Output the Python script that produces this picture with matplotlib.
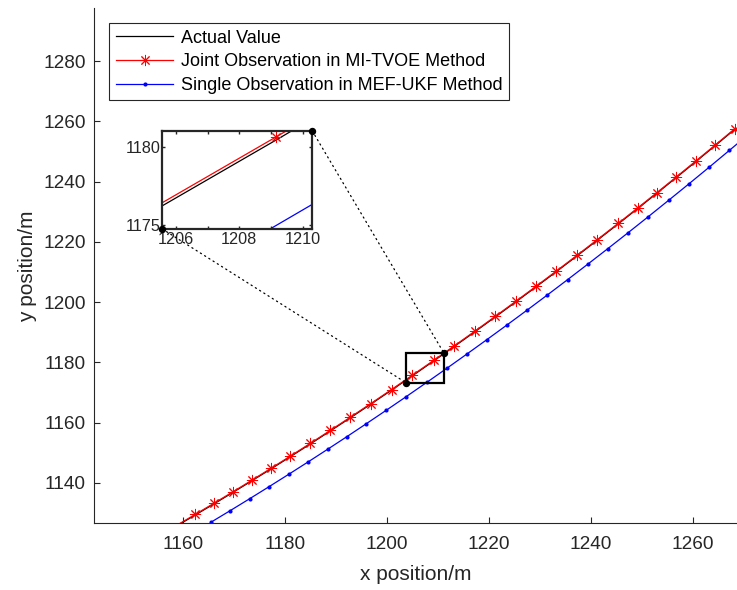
import matplotlib
matplotlib.use("Agg")
import matplotlib.pyplot as plt
from matplotlib.patches import Rectangle, ConnectionPatch

plt.rcParams['font.family'] = ['Liberation Sans', 'DejaVu Sans']

# ---------------- data ----------------
# Joint Observation in MI-TVOE Method (red, asterisk markers)
joint_x = [1159.0, 1162.5, 1166.1, 1169.8, 1173.5, 1177.3, 1181.1, 1185.0, 1188.9,
           1192.8, 1196.8, 1200.9, 1205.0, 1209.15, 1213.2, 1217.2, 1221.2, 1225.2,
           1229.2, 1233.2, 1237.2, 1241.2, 1245.3, 1249.1, 1252.9, 1256.7, 1260.5,
           1264.3, 1268.1]
joint_y = [1126.11, 1129.60, 1133.23, 1137.02, 1140.86, 1144.86, 1148.92, 1153.14, 1157.43,
           1161.77, 1166.29, 1170.99, 1175.76, 1180.65, 1185.49, 1190.33, 1195.24, 1200.21,
           1205.24, 1210.33, 1215.49, 1220.72, 1226.14, 1231.22, 1236.36, 1241.55, 1246.81,
           1252.12, 1257.49]

# Actual Value (black)
actual_x = joint_x
actual_y = [1125.91, 1129.40, 1133.03, 1136.82, 1140.66, 1144.66, 1148.72, 1152.94, 1157.23,
            1161.57, 1166.09, 1170.79, 1175.56, 1180.45, 1185.29, 1190.13, 1195.04, 1200.01,
            1205.04, 1210.13, 1215.29, 1220.52, 1225.94, 1231.02, 1236.16, 1241.35, 1246.61,
            1251.92, 1257.29]

# Single Observation in MEF-UKF Method (blue, dot markers)
single_x = [1165.5, 1169.3, 1173.1, 1176.9, 1180.8, 1184.6, 1188.4, 1192.2, 1196.0,
            1199.9, 1203.7, 1207.8, 1211.7, 1215.6, 1219.6, 1223.5, 1227.5, 1231.4,
            1235.4, 1239.4, 1243.3, 1247.3, 1251.2, 1255.2, 1259.2, 1263.1, 1267.1, 1271.0]
single_y = [1126.92, 1130.80, 1134.74, 1138.74, 1142.90, 1147.01, 1151.18, 1155.40, 1159.69,
            1164.14, 1168.54, 1173.35, 1177.99, 1182.69, 1187.57, 1192.39, 1197.39, 1202.33,
            1207.46, 1212.66, 1217.78, 1223.10, 1228.35, 1233.80, 1239.30, 1244.73, 1250.37,
            1255.92]

labels = ["Actual Value", "Joint Observation in MI-TVOE Method",
          "Single Observation in MEF-UKF Method"]

x_ticks = [1160, 1180, 1200, 1220, 1240, 1260]
y_ticks = [1140, 1160, 1180, 1200, 1220, 1240, 1260, 1280]

# zoom region shown in the main axes, and inset limits
zoom_box_x = [1203.7, 1211.2]
zoom_box_y = [1173.3, 1183.0]
inset_xlim = [1205.57, 1210.30]
inset_ylim = [1174.74, 1181.04]
inset_xticks = [1206, 1208, 1210]
inset_xminor = [1207, 1209]
inset_yticks = [1175, 1180]

# ---------------- figure ----------------
W, H = 737, 590
fig = plt.figure(figsize=(W / 100, H / 100), dpi=100)
axc = '#262626'

ax = fig.add_axes([94.3 / W, (H - 523.3) / H, (W - 94.3) / W, (523.3 - 8.3) / H])

star = (8, 2, 0)
red = (1, 0, 0)
blue = (0, 0, 1)


def draw_series(a, ms_star=8):
    a.plot(actual_x, actual_y, color='k', lw=0.9, label=labels[0])
    a.plot(joint_x, joint_y, color=red, lw=0.9, marker=star, ms=ms_star,
           mew=0.7, markevery=slice(1, None), label=labels[1])
    a.plot(single_x, single_y, color=blue, lw=0.9, marker='o', ms=3.0,
           mew=0, label=labels[2])


draw_series(ax)
ax.set_xlim(1142.68, 1268.58)
ax.set_ylim(1126.6, 1297.5)
ax.set_xticks(x_ticks)
ax.set_yticks(y_ticks)
for s in ['top', 'right']:
    ax.spines[s].set_visible(False)
for s in ['left', 'bottom']:
    ax.spines[s].set_color(axc)
    ax.spines[s].set_linewidth(0.8)
ax.tick_params(direction='in', length=4.5, width=0.8, color=axc,
               labelsize=13.7, labelcolor=axc, pad=6)
ax.tick_params(axis='x', pad=9)
ax.set_xlabel("x position/m", fontsize=15, color=axc, labelpad=9)
ax.set_ylabel("y position/m", fontsize=15, color=axc, labelpad=4.5)

# zoom box on main axes
ax.add_patch(Rectangle((zoom_box_x[0], zoom_box_y[0]), zoom_box_x[1] - zoom_box_x[0],
                       zoom_box_y[1] - zoom_box_y[0], fill=False, ec='k', lw=1.6, zorder=5))
ax.plot([zoom_box_x[0], zoom_box_x[1]], [zoom_box_y[0], zoom_box_y[1]], 'o', color='k',
        ms=4.3, ls='none', zorder=6)

leg = ax.legend(loc='upper left', bbox_to_anchor=(109.3 / W, 1 - 23.3 / H),
                bbox_transform=fig.transFigure, fontsize=13, frameon=True,
                fancybox=False, edgecolor=axc, framealpha=1, borderaxespad=0,
                handlelength=3.2, handletextpad=0.4, borderpad=0.35,
                labelspacing=0.37, numpoints=1)
leg.get_frame().set_linewidth(0.8)

# inset axes
axi = fig.add_axes([162.3 / W, (H - 229) / H, 150 / W, 98 / H])
draw_series(axi)
axi.set_xlim(inset_xlim)
axi.set_ylim(inset_ylim)
axi.set_xticks(inset_xticks)
axi.set_xticks(inset_xminor, minor=True)
axi.set_yticks(inset_yticks)
for s in axi.spines.values():
    s.set_color(axc)
    s.set_linewidth(1.6)
axi.tick_params(which='both', direction='in', length=2.5, width=1.0, color=axc,
                top=True, right=True, labelsize=11.7, labelcolor=axc, pad=1.5)
axi.tick_params(axis='x', pad=2.5)
axi.plot([inset_xlim[0], inset_xlim[1]], [inset_ylim[0], inset_ylim[1]], 'o', color='k',
         ms=4.3, ls='none', clip_on=False, zorder=10)

# connecting dotted lines
for (ix, iy), (mx, my) in [((inset_xlim[0], inset_ylim[0]), (zoom_box_x[0], zoom_box_y[0])),
                           ((inset_xlim[1], inset_ylim[1]), (zoom_box_x[1], zoom_box_y[1]))]:
    cp = ConnectionPatch(xyA=(ix, iy), coordsA=axi.transData, xyB=(mx, my),
                         coordsB=ax.transData, color='k', lw=0.9, linestyle=(0, (1, 3)),
                         zorder=4)
    fig.add_artist(cp)

fig.savefig("out.png", dpi=100)
